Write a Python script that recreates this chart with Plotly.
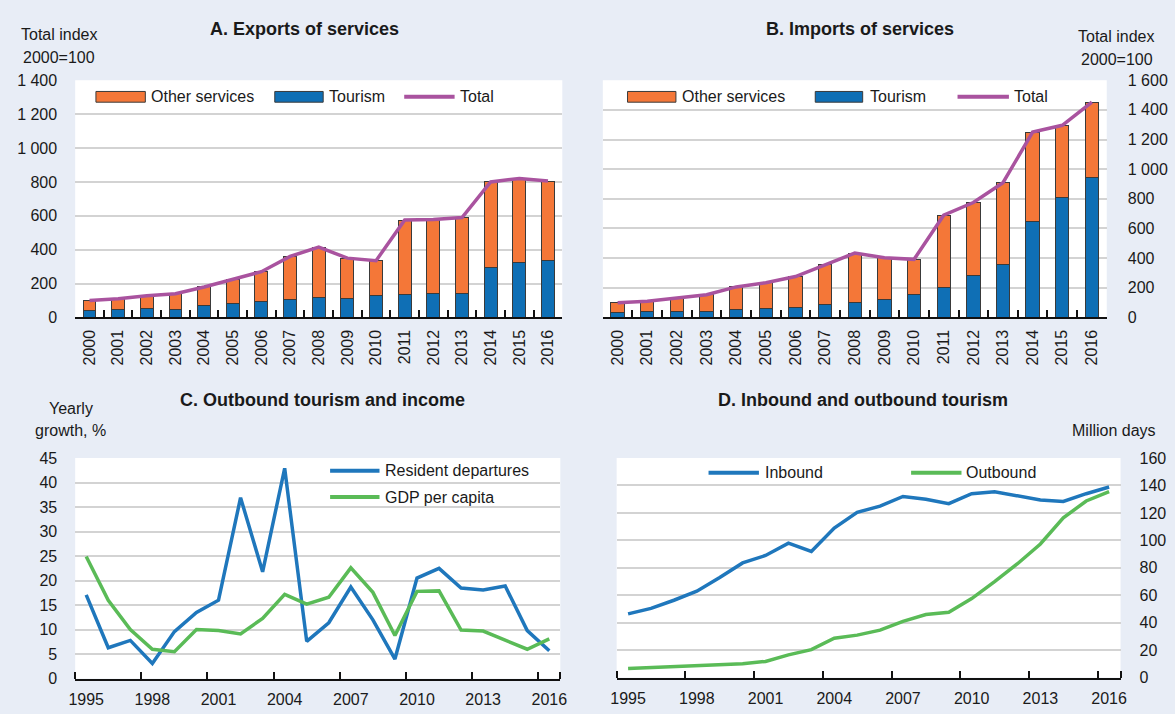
import plotly.graph_objects as go

# ---------------- data ----------------
years_ab = [str(y) for y in range(2000, 2017)]

exp_total = [100, 110, 128, 140, 180, 225, 270, 360, 415, 350, 335, 575, 578, 590, 800, 820, 805]
exp_tourism = [42, 48, 54, 46, 71, 80, 94, 104, 115, 109, 127, 134, 140, 142, 297, 322, 336]

imp_total = [100, 110, 131, 153, 206, 234, 276, 355, 434, 403, 392, 690, 775, 909, 1250, 1296, 1452]
imp_tourism = [35, 37, 42, 42, 55, 61, 68, 85, 101, 123, 153, 201, 283, 355, 648, 806, 944]

years_cd = list(range(1995, 2017))
resident_departures = [17.1, 6.3, 7.8, 3.1, 9.6, 13.5, 16.0, 36.9, 21.8, 42.9, 7.6, 11.4,
                       18.7, 12.0, 4.0, 20.5, 22.5, 18.5, 18.1, 18.9, 9.8, 5.7]
gdp_per_capita = [24.9, 16.0, 10.0, 6.0, 5.5, 10.0, 9.8, 9.1, 12.3, 17.2, 15.2, 16.6,
                  22.6, 17.6, 8.8, 17.8, 17.9, 9.9, 9.7, 7.8, 6.0, 8.1]

inbound = [46.5, 50.5, 56.4, 63.0, 73.0, 83.6, 89.0, 98.0, 92.0, 109.0, 120.4, 125.0,
           132.0, 130.0, 126.8, 134.0, 135.5, 132.7, 129.4, 128.4, 134.0, 138.9]
outbound = [6.6, 7.3, 7.8, 8.3, 9.0, 10.2, 11.8, 16.6, 20.4, 28.7, 31.0, 34.6,
            41.0, 46.0, 47.6, 57.6, 70.0, 83.0, 97.4, 116.4, 128.7, 135.5]

tick_years_cd = [1995, 1998, 2001, 2004, 2007, 2010, 2013, 2016]

exp_other = [t - u for t, u in zip(exp_total, exp_tourism)]
imp_other = [t - u for t, u in zip(imp_total, imp_tourism)]

# ---------------- style ----------------
W, H = 1175, 714
FONT = "Liberation Sans, Arial, sans-serif"
FS = 16
TXT = "#1a1a1a"
BG = "#E8EDF6"
ORANGE = "#F47738"
BLUE_BAR = "#0F6FB5"
PURPLE = "#A9539F"
BLUE_LINE = "#1F77BC"
GREEN = "#5ABB57"
GRID = "#D3D3D3"
OUTLINE = "#3a3a3a"


def fx(x):
    return x / W


def fy(y):
    return 1 - y / H


fig = go.Figure()

# Panel A
fig.add_trace(go.Bar(x=years_ab, y=exp_tourism, name="Tourism", marker=dict(color=BLUE_BAR, line=dict(color=OUTLINE, width=1)),
                     width=0.45, xaxis="x", yaxis="y", showlegend=False))
fig.add_trace(go.Bar(x=years_ab, y=exp_other, name="Other services", marker=dict(color=ORANGE, line=dict(color=OUTLINE, width=1)),
                     width=0.45, xaxis="x", yaxis="y", showlegend=False))
fig.add_trace(go.Scatter(x=years_ab, y=exp_total, name="Total", mode="lines", line=dict(color=PURPLE, width=3.5),
                         xaxis="x", yaxis="y", showlegend=False))
# Panel B
fig.add_trace(go.Bar(x=years_ab, y=imp_tourism, name="Tourism", marker=dict(color=BLUE_BAR, line=dict(color=OUTLINE, width=1)),
                     width=0.45, xaxis="x2", yaxis="y2", showlegend=False))
fig.add_trace(go.Bar(x=years_ab, y=imp_other, name="Other services", marker=dict(color=ORANGE, line=dict(color=OUTLINE, width=1)),
                     width=0.45, xaxis="x2", yaxis="y2", showlegend=False))
fig.add_trace(go.Scatter(x=years_ab, y=imp_total, name="Total", mode="lines", line=dict(color=PURPLE, width=3.5),
                         xaxis="x2", yaxis="y2", showlegend=False))
# Panel C
fig.add_trace(go.Scatter(x=years_cd, y=resident_departures, name="Resident departures", mode="lines",
                         line=dict(color=BLUE_LINE, width=3.5), xaxis="x3", yaxis="y3", showlegend=False))
fig.add_trace(go.Scatter(x=years_cd, y=gdp_per_capita, name="GDP per capita", mode="lines",
                         line=dict(color=GREEN, width=3.5), xaxis="x3", yaxis="y3", showlegend=False))
# Panel D
fig.add_trace(go.Scatter(x=years_cd, y=inbound, name="Inbound", mode="lines",
                         line=dict(color=BLUE_LINE, width=3.5), xaxis="x4", yaxis="y4", showlegend=False))
fig.add_trace(go.Scatter(x=years_cd, y=outbound, name="Outbound", mode="lines",
                         line=dict(color=GREEN, width=3.5), xaxis="x4", yaxis="y4", showlegend=False))

tickfont = dict(family=FONT, size=FS, color=TXT)

common_x = dict(showgrid=False, zeroline=False, showline=True, linecolor="#111", linewidth=2,
                ticks="inside", ticklen=7, tickwidth=1.5, tickcolor="#111", tickfont=tickfont, fixedrange=True)
common_y = dict(showgrid=True, gridcolor=GRID, gridwidth=1.5, zeroline=False, showline=False,
                ticks="", tickfont=tickfont, separatethousands=True, fixedrange=True)

cd_x = dict(common_x)
cd_x.update(dict(type="linear", range=[1994.5, 2016.5], tickmode="array", tickvals=tick_years_cd,
                 ticks="", ticklabelstandoff=5,
                 minor=dict(tickmode="array", tickvals=[y - 0.5 for y in tick_years_cd] + [2016.5],
                            ticks="inside", ticklen=7, tickwidth=1.5, tickcolor="#111", showgrid=False)))

fig.update_layout(
    width=W, height=H, margin=dict(l=0, r=0, t=0, b=0),
    paper_bgcolor=BG, plot_bgcolor="white", barmode="stack", bargap=0.55,
    separators=". ", font=dict(family=FONT, size=FS, color=TXT),
    xaxis=dict(common_x, type="category", domain=[fx(69), fx(562)], anchor="y", tickangle=-90,
               tickson="boundaries", ticklabelstandoff=4),
    yaxis=dict(common_y, domain=[fy(317), fy(74)], anchor="x", range=[0, 1400], dtick=200, ticklabelstandoff=17),
    xaxis2=dict(common_x, type="category", domain=[fx(603), fx(1113)], anchor="y2", tickangle=-90,
                tickson="boundaries", ticklabelstandoff=4),
    yaxis2=dict(common_y, domain=[fy(317), fy(74)], anchor="x2", side="right", range=[0, 1600], dtick=200,
                ticklabelstandoff=20),
    xaxis3=dict(cd_x, domain=[fx(69), fx(560)], anchor="y3"),
    yaxis3=dict(common_y, domain=[fy(687), fy(461)], anchor="x3", range=[0, 45], dtick=5, ticklabelstandoff=17),
    xaxis4=dict(cd_x, domain=[fx(617), fx(1127)], anchor="y4"),
    yaxis4=dict(common_y, domain=[fy(686), fy(461)], anchor="x4", side="right", range=[0, 160], dtick=20,
                ticklabelstandoff=18),
)

annotations = []
shapes = []


def text(x, y, s, size=FS, bold=False, xanchor="center"):
    annotations.append(dict(x=fx(x), y=fy(y), xref="paper", yref="paper", text=f"<b>{s}</b>" if bold else s,
                            showarrow=False, xanchor=xanchor, yanchor="middle",
                            font=dict(family=FONT, size=size, color=TXT)))


# titles
text(301, 22, "A. Exports of services", size=18, bold=True)
text(863, 22, "B. Imports of services", size=18, bold=True)
text(319, 402, "C. Outbound tourism and income", size=18, bold=True)
text(866, 402, "D. Inbound and outbound tourism", size=18, bold=True)

# axis unit labels
text(53, 27, "Total index")
text(53, 51, "2000=100")
text(1123, 29, "Total index")
text(1123, 53, "2000=100")
text(65, 410, "Yearly")
text(64, 433, "growth, %")
text(1120, 433, "Million days")


def legend_rect(x0, x1, y, color, label, tx):
    shapes.append(dict(type="rect", xref="paper", yref="paper", x0=fx(x0), x1=fx(x1), y0=fy(y + 5.5), y1=fy(y - 5.5),
                       fillcolor=color, line=dict(color=OUTLINE, width=1)))
    text(tx, y, label, xanchor="left")


def legend_line(x0, x1, y, color, label, tx):
    shapes.append(dict(type="line", xref="paper", yref="paper", x0=fx(x0), x1=fx(x1), y0=fy(y), y1=fy(y),
                       line=dict(color=color, width=4)))
    text(tx, y, label, xanchor="left")


# Legend A
legend_rect(90, 140, 91, ORANGE, "Other services", 144)
legend_rect(271, 320, 91, BLUE_BAR, "Tourism", 324)
legend_line(402, 453, 91, PURPLE, "Total", 456)
# Legend B
legend_rect(628, 677, 91, ORANGE, "Other services", 681)
legend_rect(818, 866, 91, BLUE_BAR, "Tourism", 871)
legend_line(962, 1014, 91, PURPLE, "Total", 1017)
# Legend C
legend_line(327, 377, 474, BLUE_LINE, "Resident departures", 381)
legend_line(327, 377, 501, GREEN, "GDP per capita", 381)
# Legend D
legend_line(710, 761, 476, BLUE_LINE, "Inbound", 765)
legend_line(915, 966, 476, GREEN, "Outbound", 969)

fig.update_layout(annotations=annotations, shapes=shapes)
fig.write_html("out.html", config={"displayModeBar": False},
               post_script="document.body.style.margin='0';document.body.style.overflow='hidden';")
